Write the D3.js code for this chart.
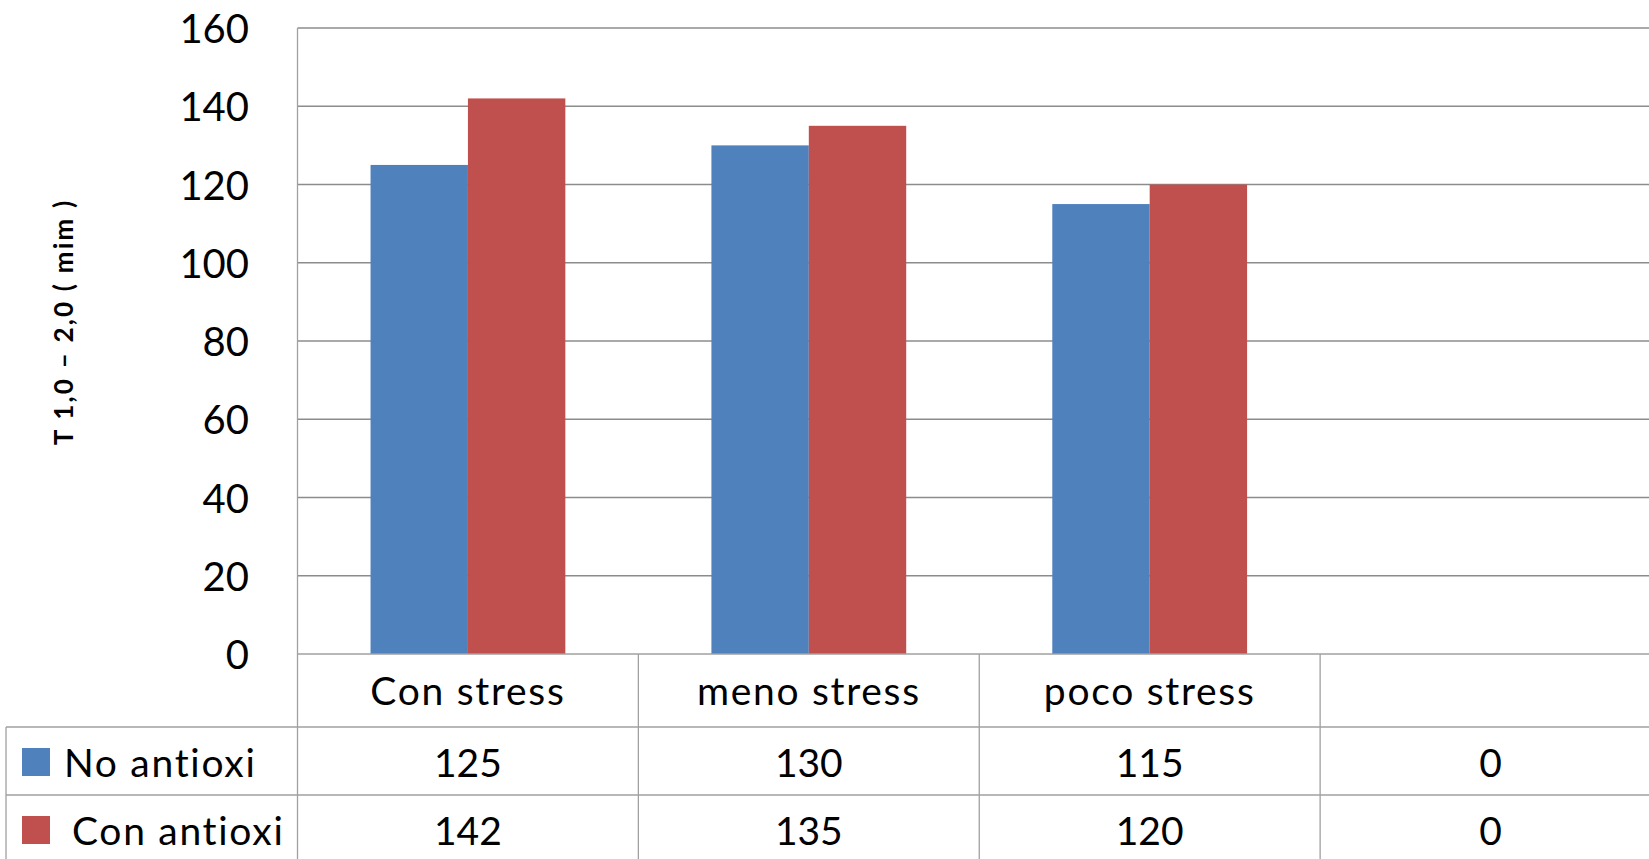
<!DOCTYPE html>
<html>
<head>
<meta charset="utf-8">
<script src="https://cdn.jsdelivr.net/npm/d3@7"></script>
<style>
  html, body { margin: 0; padding: 0; background: #fff; }
  svg { display: block; font-family: Lato, "Open Sans", sans-serif; }
</style>
</head>
<body>
<svg id="chart" width="1649" height="859"></svg>
<script>
// Categories (the fourth column of the data table is empty)
const categories = ["Con stress", "meno stress", "poco stress", ""];
const seriesNames = ["No antioxi", "Con antioxi"];
const noAntioxi = [125, 130, 115, 0];
const conAntioxi = [142, 135, 120, 0];
const yTicks = [0, 20, 40, 60, 80, 100, 120, 140, 160];
const yTitle = "T 1,0 \u2013 2,0 ( mim )";

const seriesValues = [noAntioxi, conAntioxi];
const colors = ["#4F81BD", "#C0504D"];

const svg = d3.select("#chart");

const plotLeft = 297.5, plotRight = 1661, plotTop = 28, baseY = 654;
const tableLeft = 6;
const rowH = 68;
const headerBottom = 727;
const rowTops = [headerBottom, headerBottom + rowH];
const gridColor = "#8c8c8c";
const tableColor = "#a0a0a0";
const wordSpacing = "1.7px";

const x = d3.scaleBand().domain(categories).range([plotLeft, plotRight]).paddingInner(0).paddingOuter(0);
const xs = d3.scaleBand().domain(seriesNames).range([0, x.bandwidth()]).paddingInner(0).paddingOuter(0.75);
const y = d3.scaleLinear().domain([0, 160]).range([baseY, plotTop]);

// Horizontal gridlines
svg.append("g").selectAll("line").data(yTicks.filter(d => d > 0)).join("line")
  .attr("x1", plotLeft).attr("x2", 1649)
  .attr("y1", d => y(d)).attr("y2", d => y(d))
  .attr("stroke", gridColor).attr("stroke-width", 1.3);

// Y tick labels
svg.append("g").selectAll("text").data(yTicks).join("text")
  .attr("x", 249).attr("y", d => y(d))
  .attr("text-anchor", "end").attr("dominant-baseline", "central")
  .attr("font-size", 40).attr("fill", "#000")
  .text(d => d);

// Y axis title
svg.append("text")
  .attr("transform", "translate(63,322) rotate(-90)")
  .attr("text-anchor", "middle").attr("dominant-baseline", "central")
  .attr("font-size", 26).attr("font-weight", "bold").attr("fill", "#000")
  .attr("letter-spacing", "2.2px")
  .text(yTitle);

// Bars
const groups = svg.append("g").selectAll("g").data(seriesNames).join("g")
  .attr("fill", (d, i) => colors[i]);
groups.selectAll("rect")
  .data((s, si) => categories.map((c, ci) => ({ c, s, v: seriesValues[si][ci] })))
  .join("rect")
  .attr("x", d => x(d.c) + xs(d.s))
  .attr("width", xs.bandwidth())
  .attr("y", d => y(d.v))
  .attr("height", d => y(0) - y(d.v));

// Plot area left border and baseline
svg.append("line").attr("x1", plotLeft).attr("x2", plotLeft).attr("y1", plotTop).attr("y2", 859)
  .attr("stroke", tableColor).attr("stroke-width", 1.3);
svg.append("line").attr("x1", plotLeft).attr("x2", 1649).attr("y1", baseY).attr("y2", baseY)
  .attr("stroke", tableColor).attr("stroke-width", 1.5);

// Data table: header row with category names
svg.append("g").selectAll("line").data(categories.slice(1)).join("line")
  .attr("x1", d => x(d)).attr("x2", d => x(d))
  .attr("y1", baseY).attr("y2", 859)
  .attr("stroke", tableColor).attr("stroke-width", 1.3);

svg.append("g").selectAll("text").data(categories).join("text")
  .attr("x", d => x(d) + x.bandwidth() / 2).attr("y", (baseY + headerBottom) / 2 - 1)
  .attr("text-anchor", "middle").attr("dominant-baseline", "central")
  .attr("font-size", 39).attr("fill", "#000")
  .attr("letter-spacing", wordSpacing)
  .text(d => d);

// Table row lines
svg.append("g").selectAll("line").data(rowTops).join("line")
  .attr("x1", tableLeft).attr("x2", 1649)
  .attr("y1", d => d).attr("y2", d => d)
  .attr("stroke", tableColor).attr("stroke-width", 1.3);
svg.append("line").attr("x1", tableLeft).attr("x2", tableLeft).attr("y1", headerBottom).attr("y2", 859)
  .attr("stroke", tableColor).attr("stroke-width", 1.3);

// Table rows: legend key, series name, values
const rows = svg.append("g").selectAll("g").data(seriesNames).join("g")
  .attr("transform", (d, i) => `translate(0,${rowTops[i]})`);
rows.append("rect")
  .attr("x", 22).attr("y", 21).attr("width", 28).attr("height", 28)
  .attr("fill", (d, i) => colors[i]);
rows.append("text")
  .attr("x", (d, i) => i === 0 ? 64 : 72).attr("y", rowH / 2 + 1)
  .attr("dominant-baseline", "central")
  .attr("font-size", 39).attr("fill", "#000")
  .attr("letter-spacing", wordSpacing)
  .text(d => d);
rows.selectAll("text.val")
  .data((s, si) => categories.map((c, ci) => ({ c, v: seriesValues[si][ci] })))
  .join("text").attr("class", "val")
  .attr("x", d => x(d.c) + x.bandwidth() / 2).attr("y", rowH / 2 + 1)
  .attr("text-anchor", "middle").attr("dominant-baseline", "central")
  .attr("font-size", 39).attr("fill", "#000")
  .text(d => d.v);
</script>
</body>
</html>
